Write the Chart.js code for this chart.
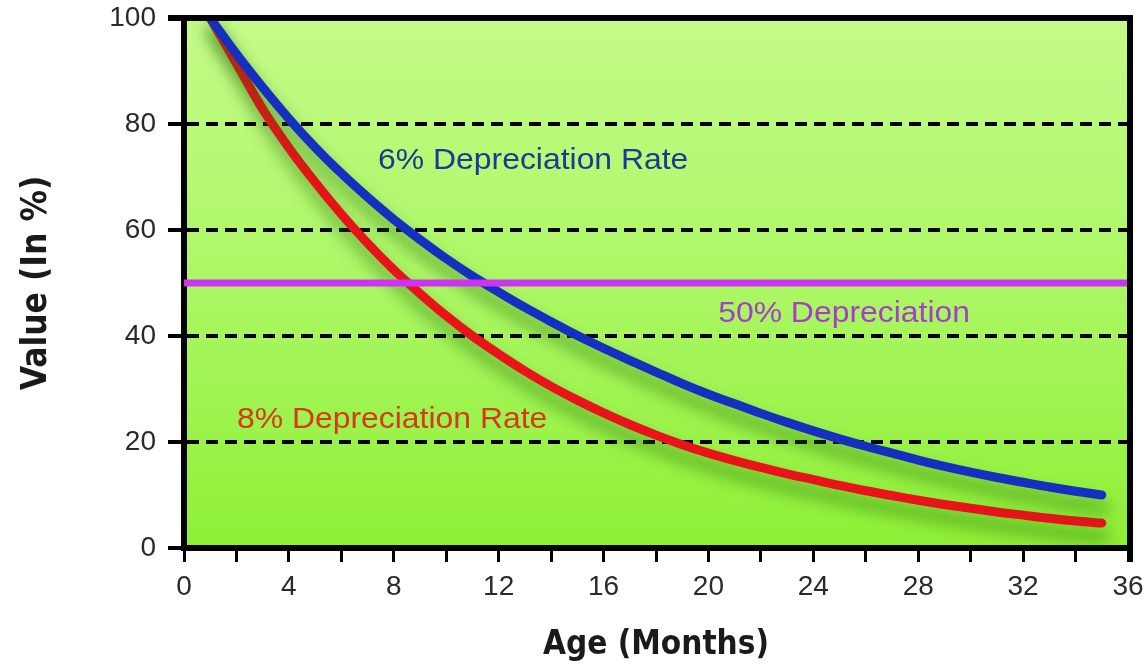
<!DOCTYPE html>
<html>
<head>
<meta charset="utf-8">
<script src="https://cdn.jsdelivr.net/npm/chart.js@4.4.1/dist/chart.umd.min.js"></script>
<style>
  html, body { margin: 0; padding: 0; background: #ffffff; }
  #wrap { width: 1147px; height: 665px; }
</style>
</head>
<body>
<div id="wrap"><canvas id="c" width="1147" height="665"></canvas></div>
<script>
// ---- data ----
const months = [1,2,3,4,5,6,7,8,9,10,11,12,13,14,15,16,17,18,19,20,21,22,23,24,25,26,27,28,29,30,31,32,33,34,35];
const rate6 = [100,93.2,86.9,81.0,75.6,70.7,66.2,62.0,58.2,54.6,51.3,48.3,45.4,42.7,40.1,37.7,35.4,33.2,31.0,29.0,27.2,25.4,23.7,22.1,20.6,19.2,17.9,16.6,15.4,14.3,13.3,12.4,11.5,10.7,10.0];
const rate8 = [100,91.4,82.8,75.5,69.0,63.0,57.5,52.5,48.0,43.8,40.0,36.6,33.4,30.5,27.9,25.5,23.3,21.3,19.5,17.9,16.5,15.2,14.0,12.9,11.8,10.8,9.9,9.0,8.2,7.5,6.8,6.2,5.6,5.1,4.7];
const halfLine = [50, 50];
const halfLineX = [0, 36];
const xTicks = [0,2,4,6,8,10,12,14,16,18,20,22,24,26,28,30,32,34,36];
const yTicks = [0,20,40,60,80,100];
const noteTexts = ['6% Depreciation Rate', '50% Depreciation', '8% Depreciation Rate'];
const noteX = [7.4, 20.37, 2.02];
const noteY = [71.5, 42.6, 22.6];
const noteColors = ['#1d3895', '#a83ccc', '#d8391a'];

const toPts = (xs, ys) => xs.map((x, i) => ({x: x, y: ys[i]}));

const bgPlugin = {
  id: 'bg',
  beforeDraw(chart) {
    const {ctx, chartArea: a} = chart;
    const g = ctx.createLinearGradient(0, a.top, 0, a.bottom);
    g.addColorStop(0, '#c4fb88');
    g.addColorStop(0.5, '#acf765');
    g.addColorStop(1, '#8ef036');
    ctx.save();
    ctx.fillStyle = g;
    ctx.fillRect(a.left, a.top, a.right - a.left, a.bottom - a.top);
    ctx.restore();
  }
};

const shadowPlugin = {
  id: 'shadow',
  beforeDatasetDraw(chart, args) {
    if (args.index === 0) return;
    const ctx = chart.ctx;
    ctx.save();
    ctx.shadowColor = 'rgba(30,100,0,0.6)';
    ctx.shadowBlur = 16;
    ctx.shadowOffsetX = 3;
    ctx.shadowOffsetY = 13;
  },
  afterDatasetDraw(chart, args) {
    if (args.index === 0) return;
    chart.ctx.restore();
  }
};

const framePlugin = {
  id: 'frame',
  afterDraw(chart) {
    const {ctx, chartArea: a} = chart;
    ctx.save();
    ctx.strokeStyle = '#000';
    ctx.lineWidth = 6;
    ctx.beginPath();
    ctx.moveTo(a.left - 16, a.top);
    ctx.lineTo(a.right + 2, a.top);
    ctx.lineTo(a.right + 2, a.bottom + 14);
    ctx.stroke();
    ctx.restore();
  }
};

const notesPlugin = {
  id: 'notes',
  afterDatasetsDraw(chart) {
    const {ctx, scales: {x, y}} = chart;
    ctx.save();
    ctx.font = '29px "Liberation Sans", Arial, sans-serif';
    ctx.textAlign = 'left';
    ctx.textBaseline = 'alphabetic';
    noteTexts.forEach((t, i) => {
      ctx.save();
      ctx.translate(x.getPixelForValue(noteX[i]), y.getPixelForValue(noteY[i]));
      ctx.scale(1.1, 1);
      ctx.fillStyle = noteColors[i];
      ctx.fillText(t, 0, 0);
      ctx.restore();
    });
    ctx.restore();
  }
};

const fam = '"DejaVu Sans Condensed", "Liberation Sans Narrow", sans-serif';
const tickFont = {family: '"Liberation Sans", Arial, sans-serif', size: 28};

new Chart(document.getElementById('c'), {
  type: 'line',
  data: {
    datasets: [
      {label: '50% Depreciation', data: toPts(halfLineX, halfLine), borderColor: '#cc33f2', borderWidth: 7, pointRadius: 0, tension: 0},
      {label: '6% Depreciation Rate', data: toPts(months, rate6), borderColor: '#1530c0', borderWidth: 9, pointRadius: 0, cubicInterpolationMode: 'monotone', borderCapStyle: 'round'},
      {label: '8% Depreciation Rate', data: toPts(months, rate8), borderColor: '#e8141a', borderWidth: 9, pointRadius: 0, cubicInterpolationMode: 'monotone', borderCapStyle: 'round'}
    ]
  },
  options: {
    responsive: false,
    animation: false,
    events: [],
    layout: {padding: {top: 18, right: 19, bottom: 0, left: 0}},
    plugins: {legend: {display: false}, tooltip: {enabled: false}},
    scales: {
      x: {
        type: 'linear', min: 0, max: 36,
        afterFit(s) { s.height = 117; s.paddingLeft = 0; s.paddingRight = 0; },
        afterBuildTicks(s) { s.ticks = xTicks.map(v => ({value: v})); },
        ticks: {
          font: tickFont, color: '#2a2a2a', padding: 8, maxRotation: 0, autoSkip: false,
          callback: v => (v % 4 === 0 ? String(v) : '')
        },
        grid: {drawOnChartArea: false, drawTicks: true, tickLength: 14, tickWidth: 3, tickColor: '#000', color: '#000'},
        border: {display: true, color: '#000', width: 6},
        title: {display: true, text: 'Age (Months)', font: {family: fam, weight: 'bold', size: 33, lineHeight: 1.2}, color: '#1a1a1a', padding: {top: 0, bottom: 0}}
      },
      y: {
        min: 0, max: 100,
        afterFit(s) { s.width = 184; s.paddingTop = 0; s.paddingBottom = 0; },
        afterBuildTicks(s) { s.ticks = yTicks.map(v => ({value: v})); },
        ticks: {font: tickFont, color: '#2a2a2a', padding: 12},
        grid: {
          drawOnChartArea: true, drawTicks: true, tickLength: 16, tickWidth: 4, tickColor: '#000', lineWidth: 4,
          color: c => (c.tick && (c.tick.value === 0 || c.tick.value === 100) ? 'rgba(0,0,0,0)' : '#000')
        },
        border: {display: true, color: '#000', width: 6, dash: [12, 7]},
        title: {display: true, text: 'Value (In %)', font: {family: fam, weight: 'bold', size: 35, lineHeight: 1.2}, color: '#1a1a1a', padding: {top: 16, bottom: 0}}
      }
    }
  },
  plugins: [bgPlugin, shadowPlugin, framePlugin, notesPlugin]
});
</script>
</body>
</html>
